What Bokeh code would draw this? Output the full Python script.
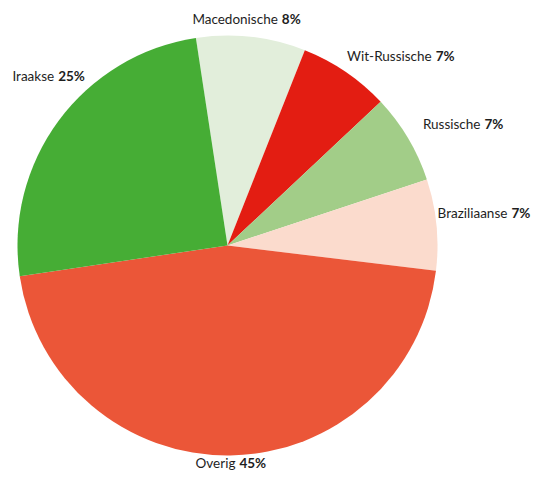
import math
from bokeh.plotting import figure
from bokeh.models import Range1d, ColumnDataSource
from bokeh.core.properties import value
from bokeh.embed import file_html
from bokeh.resources import INLINE

# ---- data ----
categories = ["Macedonische", "Wit-Russische", "Russische", "Braziliaanse", "Overig", "Iraakse"]
shares = [8.4, 7.0, 6.9, 7.0, 45.7, 24.9]
pct_labels = ["8%", "7%", "7%", "7%", "45%", "25%"]

# ---- style ----
colors = ["#e2eedb", "#e31d12", "#a2cd88", "#fbdbcd", "#eb5638", "#46ad35"]
start_deg = -8.66          # clockwise from 12 o'clock
radius = 210
label_radius = 228
label_dx = [26.6, 78, 59, 55, 7, 12]
label_dy = [0, 1, 5, 10, 10, 34]
FONT = "Lato"
FSIZE = "13.5px"
TXT = "#1e1e1e"

W, H = 532, 470
cx_px, cy_px = 227, 245   # pie centre in picture pixels
p = figure(width=W, height=H, output_backend="svg", toolbar_location=None,
           x_range=Range1d(-cx_px, W - cx_px),
           y_range=Range1d(cy_px - H, cy_px),
           min_border=0)
p.axis.visible = False
p.grid.visible = False
p.outline_line_color = None
p.background_fill_color = "white"
p.border_fill_color = "white"

total = sum(shares)
starts, ends, mids = [], [], []
acc = start_deg
for s in shares:
    a0 = acc
    a1 = acc + s / total * 360.0
    acc = a1
    # convert clockwise-from-top to math angles
    starts.append(math.radians(90 - a1))
    ends.append(math.radians(90 - a0))
    mids.append((a0 + a1) / 2)

src = ColumnDataSource(dict(start=starts, end=ends, color=colors, cat=categories))
p.wedge(x=0, y=0, radius=radius, start_angle="start", end_angle="end",
        fill_color="color", line_color=None, source=src)

lx, ly = [], []
for m, dx, dy in zip(mids, label_dx, label_dy):
    r = math.radians(m)
    lx.append(label_radius * math.sin(r) + dx)
    ly.append(label_radius * math.cos(r) + dy)

gap = 2.0
lab = ColumnDataSource(dict(
    xn=[x - gap for x in lx], xp=[x + gap for x in lx], y=ly,
    name=categories, pct=pct_labels))
p.text(x="xn", y="y", text="name", source=lab, text_align="right",
       text_baseline="middle", text_font=value(FONT), text_font_size=FSIZE,
       text_color=TXT)
p.text(x="xp", y="y", text="pct", source=lab, text_align="left",
       text_baseline="middle", text_font=value(FONT), text_font_size=FSIZE,
       text_font_style="bold", text_color=TXT)

open("out.html", "w").write(file_html(p, INLINE))
